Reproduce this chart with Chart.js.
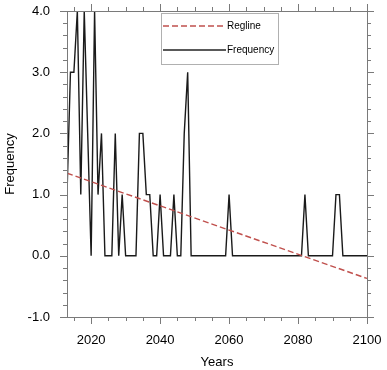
<!DOCTYPE html>
<html>
<head>
<meta charset="utf-8">
<script src="https://cdn.jsdelivr.net/npm/chart.js@4.4.0/dist/chart.umd.min.js"></script>
<style>
  html, body { margin: 0; padding: 0; background: #fff; }
  #wrap { width: 387px; height: 370px; }
</style>
</head>
<body>
<div id="wrap"><canvas id="c" width="387" height="370"></canvas></div>
<script>
const years = [];
for (let y = 2013; y <= 2100; y++) years.push(y);

// one value per year 2013..2100
const frequency = [
  1, 3, 3, 4, 1, 4, 2, 0, 4, 1,   // 2013-2022
  2, 0, 0, 0, 2, 0, 1, 0, 0, 0,   // 2023-2032
  0, 2, 2, 1, 1, 0, 0, 1, 0, 0,   // 2033-2042
  0, 1, 0, 0, 2, 3, 0, 0, 0, 0,   // 2043-2052
  0, 0, 0, 0, 0, 0, 0, 1, 0, 0,   // 2053-2062
  0, 0, 0, 0, 0, 0, 0, 0, 0, 0,   // 2063-2072
  0, 0, 0, 0, 0, 0, 0, 0, 0, 1,   // 2073-2082
  0, 0, 0, 0, 0, 0, 0, 0, 1, 1,   // 2083-2092
  0, 0, 0, 0, 0, 0, 0, 0          // 2093-2100
];

const reglineX = [2013, 2100];
const reglineY = [1.35, -0.37];

const xMajor = [2020, 2040, 2060, 2080, 2100];
const yMajor = [-1, 0, 1, 2, 3, 4];
const xMinor = [];
for (let v = 2015; v <= 2100; v += 5) xMinor.push(v);
const yMinor = [];
for (let v = -1; v <= 4.001; v += 0.2) yMinor.push(Math.round(v * 10) / 10);

const FONT = '"Liberation Sans", Arial, Helvetica, sans-serif';
const FRAME = '#7a7a7a';
const RED = '#c0504d';

// pin the plot box to where it sits in the original
const AREA = { left: 67, top: 11, right: 367, bottom: 317 };

const framePlugin = {
  id: 'frame',
  afterDraw(chart) {
    const { ctx, chartArea: a, scales } = chart;
    ctx.save();
    ctx.strokeStyle = FRAME;
    ctx.lineWidth = 1;
    ctx.strokeRect(a.left + 0.5, a.top + 0.5, a.right - a.left, a.bottom - a.top);

    ctx.beginPath();
    xMinor.forEach(v => {
      const x = Math.round(scales.x.getPixelForValue(v)) + 0.5;
      const len = xMajor.includes(v) ? 7 : 4;
      ctx.moveTo(x, a.bottom); ctx.lineTo(x, a.bottom + len);
      ctx.moveTo(x, a.top); ctx.lineTo(x, a.top - len);
    });
    yMinor.forEach(v => {
      const y = Math.round(scales.y.getPixelForValue(v)) + 0.5;
      const len = yMajor.includes(v) ? 7 : 4;
      ctx.moveTo(a.left, y); ctx.lineTo(a.left - len, y);
      ctx.moveTo(a.right, y); ctx.lineTo(a.right + len, y);
    });
    ctx.stroke();

    // legend box
    ctx.fillStyle = '#fff';
    ctx.strokeStyle = '#b0b0b0';
    ctx.fillRect(161, 13, 117, 51);
    ctx.strokeRect(161.5, 13.5, 117, 51);
    ctx.lineWidth = 1.4;
    ctx.strokeStyle = RED;
    ctx.setLineDash([6, 3]);
    ctx.beginPath(); ctx.moveTo(163, 26); ctx.lineTo(225, 26); ctx.stroke();
    ctx.setLineDash([]);
    ctx.strokeStyle = '#222';
    ctx.beginPath(); ctx.moveTo(163, 50); ctx.lineTo(226, 50); ctx.stroke();
    ctx.fillStyle = '#000';
    ctx.font = '10px ' + FONT;
    ctx.textBaseline = 'middle';
    ctx.fillText('Regline', 227, 26);
    ctx.fillText('Frequency', 227, 50);
    ctx.restore();
  }
};

new Chart(document.getElementById('c'), {
  type: 'line',
  data: {
    datasets: [
      {
        label: 'Regline',
        data: reglineX.map((x, i) => ({ x, y: reglineY[i] })),
        borderColor: RED,
        borderWidth: 1.4,
        borderDash: [6, 3],
        pointRadius: 0,
        fill: false
      },
      {
        label: 'Frequency',
        data: years.map((x, i) => ({ x, y: frequency[i] })),
        borderColor: '#1a1a1a',
        borderWidth: 1.4,
        pointRadius: 0,
        tension: 0,
        fill: false
      }
    ]
  },
  plugins: [framePlugin],
  options: {
    responsive: false,
    animation: false,
    layout: { padding: { left: 0, right: 387 - AREA.right, top: AREA.top, bottom: 0 } },
    plugins: { legend: { display: false }, tooltip: { enabled: false } },
    scales: {
      x: {
        type: 'linear',
        min: 2013,
        max: 2100,
        afterBuildTicks: s => { s.ticks = xMajor.map(v => ({ value: v })); },
        afterFit: s => { s.height = 370 - AREA.bottom; s.paddingLeft = 0; s.paddingRight = 0; },
        grid: { display: false, drawTicks: false },
        border: { display: false },
        ticks: {
          color: '#000', padding: 16, maxRotation: 0,
          font: { family: FONT, size: 13 },
          callback: v => String(v)
        },
        title: {
          display: true, text: 'Years', color: '#000',
          font: { family: FONT, size: 13 },
          padding: { top: 0, bottom: 0 }
        }
      },
      y: {
        min: -1,
        max: 4,
        afterBuildTicks: s => { s.ticks = yMajor.map(v => ({ value: v })); },
        afterFit: s => { s.width = AREA.left; s.paddingTop = 0; s.paddingBottom = 0; },
        grid: { display: false, drawTicks: false },
        border: { display: false },
        ticks: {
          color: '#000', padding: 17,
          font: { family: FONT, size: 13 },
          callback: v => Number(v).toFixed(1)
        },
        title: {
          display: true, text: 'Frequency', color: '#000',
          font: { family: FONT, size: 13 },
          padding: { top: 3, bottom: 0 }
        }
      }
    }
  }
});
</script>
</body>
</html>
